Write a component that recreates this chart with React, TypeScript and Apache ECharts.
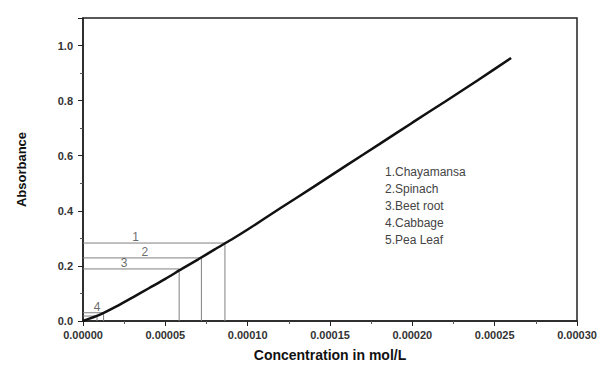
import React, { useEffect, useRef } from "react";
import * as echarts from "echarts";

const concentration = [0, 0.00001, 0.00002, 0.00003, 0.00004, 0.00005, 0.00006, 0.00007, 0.00008, 0.00009, 0.0001, 0.00012, 0.00014, 0.00016, 0.00018, 0.0002, 0.00022, 0.00024, 0.00026];
const absorbance = [0, 0.022, 0.052, 0.085, 0.119, 0.153, 0.189, 0.224, 0.26, 0.295, 0.332, 0.41, 0.487, 0.565, 0.642, 0.72, 0.797, 0.875, 0.955];

const sampleIds = ["1", "2", "3", "4", "5"];
const sampleNames = ["Chayamansa", "Spinach", "Beet root", "Cabbage", "Pea Leaf"];
const sampleConc = [0.0000862, 0.0000719, 0.0000584, 0.0000125, 0.0000085];
const sampleAbs = [0.283, 0.229, 0.189, 0.03, 0.018];
const sampleLabelConc = [0.000032, 0.0000375, 0.000025, 0.0000085, 0.000013];

const yTicks = [0, 0.2, 0.4, 0.6, 0.8, 1.0];
const xTicks = [0, 0.00005, 0.0001, 0.00015, 0.0002, 0.00025, 0.0003];

export default function App() {
  const ref = useRef<HTMLDivElement>(null);
  useEffect(() => {
    if (!ref.current) return;
    const chart = echarts.init(ref.current, null, { renderer: "svg" });
    const font = "Liberation Sans, Arial, sans-serif";
    const refSeries: any[] = sampleIds.map((id, i) => ({
      type: "line",
      data: [
        [0, sampleAbs[i]],
        [sampleConc[i], sampleAbs[i]],
        [sampleConc[i], 0],
      ],
      symbol: "none",
      lineStyle: { color: "#808080", width: 1 },
      z: 1,
      silent: true,
    }));
    const labelSeries = {
      type: "scatter",
      symbolSize: 0,
      itemStyle: { color: "#444" },
      data: sampleIds.slice(0, 4).map((id, i) => ({
        value: [sampleLabelConc[i], sampleAbs[i]],
        name: id,
      })),
      label: {
        show: true,
        formatter: (p: any) => p.name,
        position: "top",
        distance: 0,
        fontFamily: font,
        fontSize: 12,
        color: "#444",
        textBorderWidth: 0,
      },
      silent: true,
    };
    const legendText = sampleIds.map((id, i) => `${id}.${sampleNames[i]}`).join("\n");
    chart.setOption({
      animation: false,
      backgroundColor: "#fff",
      grid: {
        left: 83,
        right: 31,
        top: 18,
        bottom: 55,
        show: true,
        borderColor: "#222",
        borderWidth: 1.5,
      },
      xAxis: {
        type: "value",
        min: xTicks[0],
        max: xTicks[xTicks.length - 1],
        interval: 0.00005,
        name: "Concentration in mol/L",
        nameLocation: "middle",
        nameGap: 27,
        nameTextStyle: { fontFamily: font, fontSize: 14, fontWeight: "bold", color: "#111" },
        axisLine: { show: true, lineStyle: { color: "#222", width: 1.5 } },
        axisTick: { show: true, length: 5, lineStyle: { color: "#222" } },
        minorTick: { show: true, splitNumber: 2, length: 3, lineStyle: { color: "#555" } },
        splitLine: { show: false },
        axisLabel: {
          fontFamily: font,
          fontSize: 11,
          fontWeight: "bold",
          color: "#333",
          margin: 8,
          formatter: (v: number) => v.toFixed(5),
        },
      },
      yAxis: {
        type: "value",
        min: 0,
        max: 1.1,
        interval: 0.2,
        name: "Absorbance",
        nameLocation: "middle",
        nameGap: 55,
        nameTextStyle: { fontFamily: font, fontSize: 13, fontWeight: "bold", color: "#111" },
        axisLine: { show: true, lineStyle: { color: "#222", width: 1.5 } },
        axisTick: { show: true, length: 5, lineStyle: { color: "#222" } },
        minorTick: { show: true, splitNumber: 2, length: 3, lineStyle: { color: "#555" } },
        splitLine: { show: false },
        axisLabel: {
          fontFamily: font,
          fontSize: 11,
          fontWeight: "bold",
          color: "#333",
          margin: 10,
          formatter: (v: number) => (yTicks.some((t) => Math.abs(t - v) < 1e-9) ? v.toFixed(1) : ""),
        },
      },
      graphic: [
        {
          type: "text",
          left: 385,
          top: 163,
          style: {
            text: legendText,
            fontFamily: font,
            fontSize: 12,
            lineHeight: 17,
            fill: "#444",
          },
        },
      ],
      series: [
        ...refSeries,
        labelSeries,
        {
          type: "line",
          data: concentration.map((c, i) => [c, absorbance[i]]),
          smooth: 0.25,
          symbol: "none",
          lineStyle: { color: "#111", width: 2.5 },
          z: 5,
        },
      ],
    });
    return () => chart.dispose();
  }, []);
  return <div ref={ref} style={{ position: "fixed", left: 0, top: 0, width: 608, height: 376 }} />;
}
